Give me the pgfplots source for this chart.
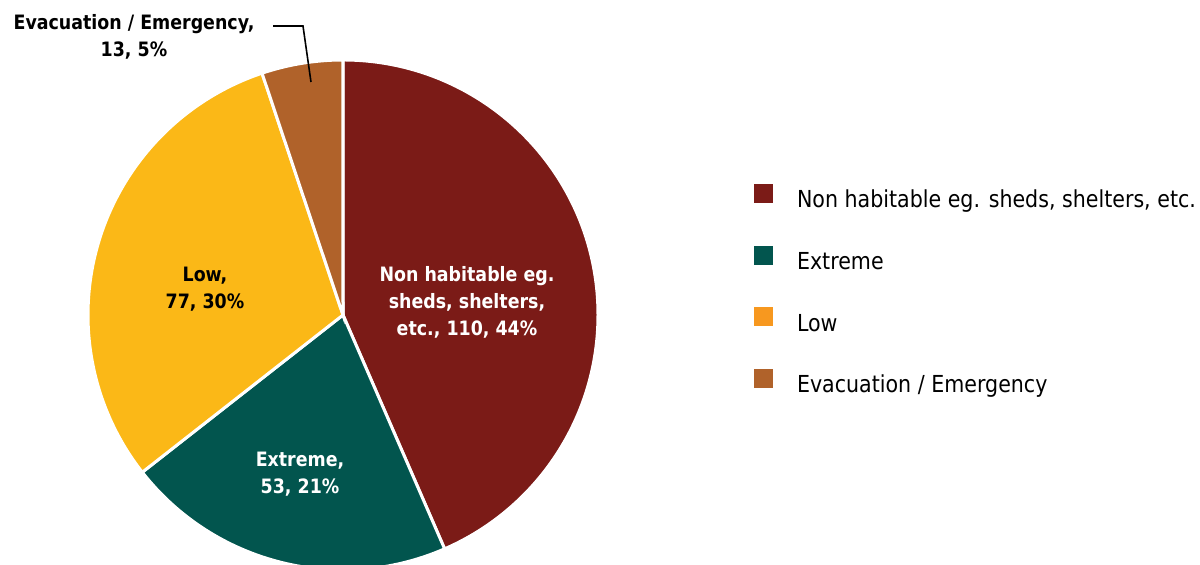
\documentclass[border=0pt]{standalone}
\usepackage{pgfplots}
\pgfplotsset{compat=1.18}
\usepackage{pgfplotstable}
\usepackage{fontspec}
\setmainfont{DejaVu Sans}[FakeStretch=0.88]
\definecolor{cNon}{HTML}{7B1B17}
\definecolor{cExt}{HTML}{02554E}
\definecolor{cLow}{HTML}{FBB817}
\definecolor{cLowLeg}{HTML}{F7981F}
\definecolor{cEva}{HTML}{B0622A}
\pgfplotsset{sq/.style={legend image code/.code={\fill[##1] (0pt,-0.6pt) rectangle (9.5pt,8.9pt);}}}

\pgfplotstableread{
category value
NonHabitable 110
Extreme 53
Low 77
Evacuation 13
}\piedata

\begin{document}
\begin{tikzpicture}
\pgfplotstablegetelem{0}{value}\of\piedata \pgfmathsetmacro\vA{\pgfplotsretval}
\pgfplotstablegetelem{1}{value}\of\piedata \pgfmathsetmacro\vB{\pgfplotsretval}
\pgfplotstablegetelem{2}{value}\of\piedata \pgfmathsetmacro\vC{\pgfplotsretval}
\pgfplotstablegetelem{3}{value}\of\piedata \pgfmathsetmacro\vD{\pgfplotsretval}
\pgfmathsetmacro\total{\vA+\vB+\vC+\vD}
\pgfmathsetmacro\aA{90}
\pgfmathsetmacro\aB{\aA-360*(\vA/\total)}
\pgfmathsetmacro\aC{\aB-360*(\vB/\total)}
\pgfmathsetmacro\aD{\aC-360*(\vC/\total)}
\pgfmathsetmacro\aE{\aD-360*(\vD/\total)}
\def\cx{343}\def\cy{250}\def\R{255}
\begin{axis}[
  x=0.5pt, y=0.5pt, xmin=0, xmax=1200, ymin=0, ymax=565,
  hide axis, clip=false,
  legend cell align=left,
  legend style={draw=none, fill=none, inner sep=0pt, outer sep=0pt,
    at={(axis cs:754,381.2)}, anchor=north west,
    column sep=12pt, row sep=16pt,
    nodes={inner sep=0pt, text height=9pt, text depth=3pt},
    font=\fontsize{11.7pt}{13pt}\selectfont},
]
\addlegendimage{sq, fill=cNon, draw=none}
\addlegendentry{Non habitable eg. sheds, shelters, etc.}
\addlegendimage{sq, fill=cExt, draw=none}
\addlegendentry{Extreme}
\addlegendimage{sq, fill=cLowLeg, draw=none}
\addlegendentry{Low}
\addlegendimage{sq, fill=cEva, draw=none}
\addlegendentry{Evacuation / Emergency}

\filldraw[fill=cNon, draw=white, line width=1.5pt] (axis cs:\cx,\cy) -- (axis cs:{\cx+\R*cos(\aA)},{\cy+\R*sin(\aA)}) arc[start angle=\aA, end angle=\aB, radius=127.5pt] -- cycle;
\filldraw[fill=cExt, draw=white, line width=1.5pt] (axis cs:\cx,\cy) -- (axis cs:{\cx+\R*cos(\aB)},{\cy+\R*sin(\aB)}) arc[start angle=\aB, end angle=\aC, radius=127.5pt] -- cycle;
\filldraw[fill=cLow, draw=white, line width=1.5pt] (axis cs:\cx,\cy) -- (axis cs:{\cx+\R*cos(\aC)},{\cy+\R*sin(\aC)}) arc[start angle=\aC, end angle=\aD, radius=127.5pt] -- cycle;
\filldraw[fill=cEva, draw=white, line width=1.5pt] (axis cs:\cx,\cy) -- (axis cs:{\cx+\R*cos(\aD)},{\cy+\R*sin(\aD)}) arc[start angle=\aD, end angle=\aE, radius=127.5pt] -- cycle;

\begin{scope}[font=\fontsize{9.9pt}{13.5pt}\selectfont\bfseries]
\node[align=center, text=white] at (axis cs:467,262.5) {Non habitable eg.\\sheds, shelters,\\etc., 110, 44\%};
\node[align=center, text=white] at (axis cs:300,91) {Extreme,\\53, 21\%};
\node[align=center, text=black] at (axis cs:205,275.5) {Low,\\77, 30\%};
\node[align=center, text=black] at (axis cs:134,528) {Evacuation / Emergency,\\13, 5\%};
\end{scope}
\draw[black, line width=0.8pt] (axis cs:273,539) -- (axis cs:303,539) -- (axis cs:311,483);
\end{axis}
\pgfresetboundingbox
\path (0,0) rectangle (600pt,282.5pt);
\end{tikzpicture}
\end{document}
